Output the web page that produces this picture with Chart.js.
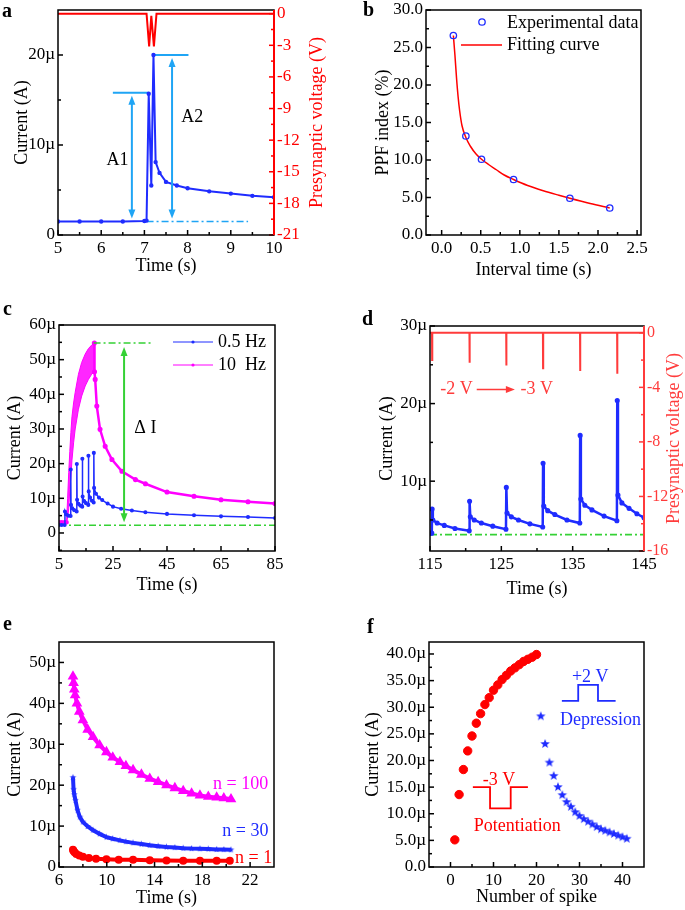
<!DOCTYPE html>
<html lang="en">
<head>
<meta charset="UTF-8">
<title>Synaptic current figure</title>
<script src="https://cdn.jsdelivr.net/npm/chart.js"></script>
<style>
  html, body { margin: 0; padding: 0; background: #fff; overflow: hidden; }
  #figure { position: relative; width: 685px; height: 910px; font-family: "Liberation Serif", "Times New Roman", serif; }
  #figure canvas { position: absolute; }
  .panel-label { position: absolute; z-index: 2; font-size: 20px; font-weight: bold; line-height: 20px; }
</style>
</head>
<body>
<div id="figure">
  <div class="panel-label" style="left:2px;top:0px">a</div>
  <div class="panel-label" style="left:363px;top:-1px">b</div>
  <div class="panel-label" style="left:3px;top:298px">c</div>
  <div class="panel-label" style="left:362px;top:308px">d</div>
  <div class="panel-label" style="left:3px;top:613px">e</div>
  <div class="panel-label" style="left:367px;top:616px">f</div>
</div>
<script>
// ---------- a: paired pulse ----------
const aTime    = [5, 5.5, 6, 6.5, 7.0, 7.05, 7.10, 7.16, 7.21, 7.26, 7.35, 7.5, 7.75, 8.0, 8.5, 9.0, 9.5, 10.0];
const aCurrent = [1.5, 1.5, 1.5, 1.5, 1.55, 1.6, 15.7, 5.5, 20.0, 8.1, 6.9, 5.9, 5.5, 5.2, 4.85, 4.6, 4.35, 4.2];
const aVoltTime = [5, 7.05, 7.11, 7.16, 7.22, 7.28, 10];
const aVolt     = [0, 0, -3.1, -0.2, -3.1, 0, 0];
const aA1LineX = [6.27, 7.10], aA1LineY = [15.8, 15.8];
const aA2LineX = [7.21, 8.02], aA2LineY = [20.0, 20.0];
const aBaseX = [7.05, 9.4], aBaseY = [1.5, 1.5];
const aArrows = [[6.71, 15.8, 1.5], [7.64, 20.0, 1.5]];
const aNotes = [['A1', 6.38, 8.3], ['A2', 8.11, 13.1]];
const aXTicks = [5, 6, 7, 8, 9, 10];
const aYTicks = [0, 10, 20];
const aY2Ticks = [0, -3, -6, -9, -12, -15, -18, -21];

// ---------- b: PPF index ----------
const bInterval = [0.15, 0.31, 0.51, 0.92, 1.64, 2.15];
const bPPF      = [26.6, 13.2, 10.1, 7.4, 4.9, 3.6];
const bFitX = [0.15, 0.17, 0.19, 0.21, 0.23, 0.26, 0.31, 0.37, 0.44, 0.51, 0.60, 0.70, 0.80, 0.92, 1.10, 1.30, 1.50, 1.64, 1.90, 2.15];
const bFitY = [26.6, 24.0, 21.0, 18.5, 16.6, 14.6, 13.0, 11.8, 10.8, 10.1, 9.4, 8.7, 8.0, 7.4, 6.6, 5.9, 5.3, 4.9, 4.2, 3.6];
const bXTicks = [0, 0.5, 1, 1.5, 2, 2.5];
const bYTicks = [0, 5, 10, 15, 20, 25, 30];

// ---------- c: 0.5 Hz vs 10 Hz ----------
const c05T = [5, 6, 7.1, 7.2, 7.6, 8.4, 9.3, 9.35, 9.45, 9.9, 10.6, 11.55, 11.6, 11.7, 12.2, 12.9, 13.6, 13.65, 13.75, 14.3, 15.0, 15.85, 15.9, 16.0, 16.5, 17.2, 17.85, 17.9, 18.0, 18.7, 19.8, 21, 23, 25, 28, 32, 37, 45, 55, 65, 75, 85];
const c05I = [2.3, 2.3, 2.3, 6.2, 5.4, 5.0, 4.9, 18.3, 8.1, 7.1, 6.6, 6.2, 19.9, 9.6, 8.4, 7.9, 7.6, 21.4, 10.5, 9.2, 8.6, 8.1, 22.3, 12.0, 10.2, 9.3, 8.8, 23.1, 13.0, 11.3, 10.2, 9.5, 8.5, 7.6, 7.0, 6.5, 6.0, 5.5, 5.1, 4.8, 4.6, 4.3];
const c10BaseT = [5, 6, 7, 7.8];
const c10BaseI = [3.1, 3.1, 3.1, 3.1];
const c10BandT  = [7.8, 8.2, 8.6, 9.0, 9.4, 9.8, 10.4, 11.0, 12.2, 13.4, 14.7, 15.9, 17.1, 18.1];
const c10Upper  = [3.1, 10.0, 17.5, 23.5, 29.0, 33.5, 37.5, 40.6, 45.8, 49.2, 51.6, 53.2, 54.2, 54.8];
const c10Lower  = [3.1, 4.5, 7.0, 12.5, 16.0, 21.0, 26.0, 30.0, 35.7, 39.5, 42.4, 44.3, 45.8, 46.5];
const c10DecayT = [18.1, 18.15, 18.4, 19.0, 20.2, 22.1, 24.6, 28.3, 33.3, 37, 45, 55, 65, 75, 85];
const c10DecayI = [54.8, 46.5, 44.3, 36.6, 29.9, 25.0, 21.2, 17.8, 15.4, 14.2, 11.8, 10.6, 9.6, 9.0, 8.5];
const cTopX = [17.8, 39.4], cTopY = [54.8, 54.8];
const cBaseX = [5, 85], cBaseY = [2.2, 2.2];
const cArrow = [29.1, 54.8, 2.2];
const cXTicks = [5, 25, 45, 65, 85];
const cYTicks = [0, 10, 20, 30, 40, 50, 60];

// ---------- d: pulse amplitude train ----------
const dT = [115, 115.25, 115.3, 115.4, 116.0, 117.0, 118.5, 120.5, 120.55, 120.65, 121.2, 122.2, 123.8, 125.65, 125.7, 125.8, 126.4, 127.4, 129.0, 130.8, 130.85, 130.95, 131.5, 132.5, 134.2, 136.0, 136.05, 136.15, 136.7, 137.7, 139.4, 141.2, 141.25, 141.35, 141.9, 142.9, 144.0, 145];
const dI = [3.3, 3.3, 6.4, 5.0, 4.6, 4.3, 3.9, 3.6, 7.4, 5.4, 5.0, 4.6, 4.2, 3.8, 9.2, 5.9, 5.4, 5.0, 4.5, 4.1, 12.3, 6.8, 6.2, 5.7, 5.0, 4.6, 15.9, 7.7, 6.9, 6.3, 5.5, 4.9, 20.4, 8.2, 7.2, 6.5, 5.8, 5.3];
const dVoltT = [115, 115.28, 115.30, 115.32, 120.53, 120.55, 120.57, 125.68, 125.70, 125.72, 130.83, 130.85, 130.87, 136.03, 136.05, 136.07, 141.23, 141.25, 141.27, 145];
const dVolt  = [0, 0, -2.0, 0, 0, -2.2, 0, 0, -2.4, 0, 0, -2.6, 0, 0, -2.8, 0, 0, -3.0, 0, 0];
const dBaseX = [115, 145], dBaseY = [3.1, 3.1];
const dXTicks = [115, 125, 135, 145];
const dYTicks = [10, 20, 30];
const dY2Ticks = [0, -4, -8, -12, -16];

// ---------- e: decay after n pulses ----------
const eT100 = [7.17, 7.22, 7.28, 7.35, 7.5, 7.7, 8.0, 8.4, 8.85, 9.4, 9.97, 10.5, 11.1, 11.6, 12.2, 12.9, 13.6, 14.3, 15.0, 15.7, 16.4, 17.1, 17.8, 18.5, 19.2, 19.8, 20.4];
const eI100 = [46.6, 45.0, 43.4, 42.0, 40.0, 38.0, 35.9, 33.6, 31.8, 29.8, 28.1, 26.8, 25.7, 24.7, 23.7, 22.6, 21.6, 20.8, 20.0, 19.3, 18.6, 18.0, 17.5, 17.2, 17.0, 16.8, 16.6];
const eT30 = [7.17, 7.22, 7.28, 7.38, 7.55, 7.75, 8.0, 8.4, 8.85, 9.4, 9.97, 10.5, 11.1, 11.6, 12.2, 12.9, 13.6, 14.3, 15.0, 15.7, 16.4, 17.1, 17.8, 18.5, 19.2, 19.8, 20.4];
const eI30 = [21.9, 19.0, 17.7, 16.3, 13.9, 12.2, 11.0, 9.9, 9.0, 8.1, 7.3, 6.9, 6.5, 6.2, 5.9, 5.6, 5.3, 5.1, 4.9, 4.75, 4.6, 4.5, 4.45, 4.4, 4.3, 4.25, 4.2];
const eT1 = [7.17, 7.22, 7.3, 7.45, 7.7, 8.0, 8.5, 9.1, 9.97, 11.0, 12.2, 13.6, 15.0, 16.4, 17.8, 19.2, 20.3];
const eI1 = [4.2, 3.9, 3.6, 3.2, 2.8, 2.5, 2.2, 2.0, 1.9, 1.8, 1.75, 1.65, 1.6, 1.55, 1.55, 1.5, 1.5];
const eNotes = [['n = 100', 21.2, 20.2, '#ff00ff'], ['n = 30', 21.6, 8.8, '#1f2cff'], ['n = 1', 22.3, 2.2, '#ff0000']];
const eXTicks = [6, 10, 14, 18, 22];
const eYTicks = [0, 10, 20, 30, 40, 50];

// ---------- f: potentiation / depression ----------
const fPotSpike = [1, 2, 3, 4, 5, 6, 7, 8, 9, 10, 11, 12, 13, 14, 15, 16, 17, 18, 19, 20];
const fPotI = [5.1, 13.6, 18.3, 21.8, 24.6, 27.0, 28.8, 30.5, 31.8, 33.2, 34.2, 35.2, 36.0, 36.8, 37.4, 38.0, 38.6, 39.0, 39.4, 39.9];
const fDepSpike = [21, 22, 23, 24, 25, 26, 27, 28, 29, 30, 31, 32, 33, 34, 35, 36, 37, 38, 39, 40, 41];
const fDepI = [28.3, 23.1, 19.6, 17.1, 15.0, 13.5, 12.2, 11.3, 10.3, 9.6, 9.0, 8.5, 8.0, 7.5, 7.1, 6.8, 6.5, 6.2, 5.9, 5.6, 5.3];
const fUpPulseX = [25.9, 29.7, 29.7, 34.3, 34.3, 38.4], fUpPulseY = [31.2, 31.2, 34.2, 34.2, 31.2, 31.2];
const fDownPulseX = [5.2, 9.2, 9.2, 14.0, 14.0, 18.0], fDownPulseY = [15.0, 15.0, 11.0, 11.0, 15.0, 15.0];
const fNotes = [['+2 V', 32.5, 35.6, '#1f2cff'], ['Depression', 34.9, 27.6, '#1f2cff'], ['-3 V', 11.3, 16.3, '#ff0000'], ['Potentiation', 15.5, 7.65, '#ff0000']];
const fXTicks = [0, 10, 20, 30, 40];
const fYTicks = [0, 5, 10, 15, 20, 25, 30, 35, 40];

const BLUE = '#1f2cff', RED = '#ff0000', SOFTRED = '#ff3b3b', MAGENTA = '#ff00ff', GREEN = '#35d135', CYAN = '#1fa5f5';
const FONT = '"Liberation Serif", "Times New Roman", serif';

Chart.defaults.font.family = FONT;
Chart.defaults.color = '#000';
Chart.defaults.animation = false;

const pts = (xs, ys) => xs.map((x, i) => ({ x: x, y: ys[i] }));
const microFmt = v => v === 0 ? '0' : v + 'µ';

function series(xs, ys, color, extra) {
    return Object.assign({
        data: pts(xs, ys), showLine: true, borderColor: color, backgroundColor: color,
        borderWidth: 2, pointRadius: 0, tension: 0
    }, extra || {});
}

function axis(position, min, max, ticks, fmt, title, pad, color, size) {
    color = color || '#000';
    return {
        type: 'linear', position: position, min: min, max: max,
        grid: { display: false, drawTicks: false },
        border: { display: false },
        afterBuildTicks: s => { s.ticks = ticks.map(v => ({ value: v })); },
        ticks: { font: { size: size || 17 }, color: color, padding: 3, autoSkip: false, maxRotation: 0, callback: fmt },
        title: { display: !!title, text: title, color: color, font: { size: 18 }, padding: pad }
    };
}

function starImage(color, r) {
    const c = document.createElement('canvas');
    c.width = c.height = Math.ceil(r * 2 + 2);
    const g = c.getContext('2d');
    g.fillStyle = color;
    g.beginPath();
    for (let i = 0; i < 10; i++) {
        const ang = -Math.PI / 2 + i * Math.PI / 5;
        const rr = i % 2 ? r * 0.42 : r;
        g.lineTo(c.width / 2 + rr * Math.cos(ang), c.height / 2 + rr * Math.sin(ang));
    }
    g.closePath();
    g.fill();
    return c;
}

function text(ctx, str, x, y, color, align) {
    ctx.save();
    ctx.font = '18px ' + FONT;
    ctx.fillStyle = color || '#000';
    ctx.textAlign = align || 'center';
    ctx.textBaseline = 'middle';
    ctx.fillText(str, x, y);
    ctx.restore();
}

// right-hand axis title, read bottom to top like the left one
function sideTitle(ctx, str, x, y, color) {
    ctx.save();
    ctx.translate(x, y);
    ctx.rotate(-Math.PI / 2);
    text(ctx, str, 0, 0, color);
    ctx.restore();
}

function head(ctx, x, y, dx, dy, color) {
    const L = 9, W = 3.5;
    ctx.fillStyle = color;
    ctx.beginPath();
    ctx.moveTo(x, y);
    ctx.lineTo(x - dx * L - dy * W, y - dy * L + dx * W);
    ctx.lineTo(x - dx * L + dy * W, y - dy * L - dx * W);
    ctx.closePath();
    ctx.fill();
}

function vArrow(ctx, x, yTop, yBot, color) {
    ctx.save();
    ctx.strokeStyle = color;
    ctx.lineWidth = 2;
    ctx.beginPath();
    ctx.moveTo(x, yTop + 6);
    ctx.lineTo(x, yBot - 6);
    ctx.stroke();
    head(ctx, x, yTop, 0, -1, color);
    head(ctx, x, yBot, 0, 1, color);
    ctx.restore();
}

// frame round the plot area with inward major and minor ticks
const framePlugin = {
    id: 'frame',
    afterDraw(chart, args, opts) {
        const { ctx, chartArea: a, scales } = chart;
        ctx.save();
        ctx.lineWidth = 1.5;
        (opts.axes || []).forEach(ax => {
            const s = scales[ax.id];
            const major = ax.major.slice().sort((p, q) => p - q);
            const step = major[1] - major[0];
            const minor = [];
            for (let i = 0; i < major.length - 1; i++) minor.push((major[i] + major[i + 1]) / 2);
            if (major[0] - step / 2 > s.min) minor.push(major[0] - step / 2);
            if (major[major.length - 1] + step / 2 < s.max) minor.push(major[major.length - 1] + step / 2);
            ctx.strokeStyle = ax.color || '#000';
            const mark = (v, len) => {
                const p = s.getPixelForValue(v);
                ctx.beginPath();
                if (ax.side === 'bottom') { ctx.moveTo(p, a.bottom); ctx.lineTo(p, a.bottom - len); }
                else if (ax.side === 'left') { ctx.moveTo(a.left, p); ctx.lineTo(a.left + len, p); }
                else { ctx.moveTo(a.right, p); ctx.lineTo(a.right - len, p); }
                ctx.stroke();
            };
            major.forEach(v => mark(v, 5));
            minor.forEach(v => mark(v, 3));
        });
        ctx.strokeStyle = '#000';
        ctx.strokeRect(a.left, a.top, a.right - a.left, a.bottom - a.top);
        if (opts.rightColor) {
            ctx.strokeStyle = opts.rightColor;
            ctx.lineWidth = 2;
            ctx.beginPath();
            ctx.moveTo(a.right, a.top);
            ctx.lineTo(a.right, a.bottom);
            ctx.stroke();
            sideTitle(ctx, opts.rightTitle, opts.rightTitleX, (a.top + a.bottom) / 2, opts.rightColor);
        }
        ctx.restore();
    }
};

function panel(box, area, scales, datasets, frame, draw) {
    const c = document.createElement('canvas');
    c.width = box.w;
    c.height = box.h;
    c.style.left = box.x + 'px';
    c.style.top = box.y + 'px';
    document.getElementById('figure').appendChild(c);
    Object.values(scales).forEach(s => {
        s.afterFit = sc => {
            if (s.position === 'left') sc.width = area.l - box.x;
            else if (s.position === 'right') sc.width = box.x + box.w - area.r;
            else sc.height = box.y + box.h - area.b;
            sc.paddingTop = sc.paddingBottom = sc.paddingLeft = sc.paddingRight = 0;
        };
    });
    const hasRight = Object.values(scales).some(s => s.position === 'right');
    return new Chart(c, {
        type: 'scatter',
        data: { datasets: datasets },
        options: {
            responsive: false,
            animation: false,
            layout: { padding: { top: area.t - box.y, right: hasRight ? 0 : box.x + box.w - area.r, left: 0, bottom: 0 } },
            scales: scales,
            plugins: { legend: { display: false }, tooltip: { enabled: false }, frame: frame }
        },
        plugins: [framePlugin, { id: 'notes', afterDatasetsDraw: draw || (() => {}) }]
    });
}

// ---- a ----
panel({ x: 0, y: 0, w: 340, h: 290 }, { l: 58, t: 10, r: 274, b: 235 }, {
    x: axis('bottom', 5, 10, aXTicks, v => String(v), 'Time (s)', 13),
    y: axis('left', 0, 25, aYTicks, microFmt, 'Current (A)', 11),
    y2: axis('right', -21, 0.35, aY2Ticks, v => String(v), '', 0, RED)
}, [
    series(aTime, aCurrent, BLUE, { pointRadius: 1.2, yAxisID: 'y' }),
    series(aVoltTime, aVolt, RED, { yAxisID: 'y2' }),
    series(aA1LineX, aA1LineY, CYAN, { yAxisID: 'y' }),
    series(aA2LineX, aA2LineY, CYAN, { yAxisID: 'y' }),
    series(aBaseX, aBaseY, CYAN, { yAxisID: 'y', borderWidth: 1.5, borderDash: [7, 3, 2, 3] })
], { axes: [{ id: 'x', side: 'bottom', major: aXTicks }, { id: 'y', side: 'left', major: aYTicks }, { id: 'y2', side: 'right', major: aY2Ticks, color: RED }],
     rightColor: RED, rightTitle: 'Presynaptic voltage (V)', rightTitleX: 317 },
chart => {
    const { ctx, scales: { x, y } } = chart;
    aArrows.forEach(([ax, top, base]) => vArrow(ctx, x.getPixelForValue(ax), y.getPixelForValue(top) + 3, y.getPixelForValue(base) - 3, CYAN));
    aNotes.forEach(([t, xv, yv]) => text(ctx, t, x.getPixelForValue(xv), y.getPixelForValue(yv)));
});

// ---- b ----
panel({ x: 340, y: 0, w: 345, h: 290 }, { l: 426, t: 10, r: 641, b: 235 }, {
    x: axis('bottom', -0.2, 2.55, bXTicks, v => v.toFixed(1), 'Interval time (s)', 9),
    y: axis('left', 0, 30, bYTicks, v => v.toFixed(1), 'PPF index (%)', 32)
}, [
    { data: pts(bInterval, bPPF), showLine: false, pointRadius: 3.2, pointBorderWidth: 1.3, pointBorderColor: BLUE, pointBackgroundColor: 'rgba(0,0,0,0)' },
    series(bFitX, bFitY, RED, { borderWidth: 1.5, cubicInterpolationMode: 'monotone' })
], { axes: [{ id: 'x', side: 'bottom', major: bXTicks }, { id: 'y', side: 'left', major: bYTicks }] },
chart => {
    const ctx = chart.ctx;
    ctx.save();
    ctx.strokeStyle = BLUE;
    ctx.lineWidth = 1.3;
    ctx.beginPath();
    ctx.arc(142, 22, 3.2, 0, Math.PI * 2);
    ctx.stroke();
    ctx.strokeStyle = RED;
    ctx.lineWidth = 1.5;
    ctx.beginPath();
    ctx.moveTo(121, 45);
    ctx.lineTo(162, 45);
    ctx.stroke();
    ctx.restore();
    text(ctx, 'Experimental data', 167, 23, '#000', 'left');
    text(ctx, 'Fitting curve', 167, 45, '#000', 'left');
});

// ---- c ----
panel({ x: 0, y: 300, w: 340, h: 300 }, { l: 59, t: 325, r: 275, b: 551 }, {
    x: axis('bottom', 5, 85, cXTicks, v => String(v), 'Time (s)', 4),
    y: axis('left', -5.2, 60, cYTicks, microFmt, 'Current (A)', 4)
}, [
    series(c05T, c05I, BLUE, { borderWidth: 1.5, pointRadius: 1.3 }),
    series(cTopX, cTopY, GREEN, { borderWidth: 1.5, borderDash: [7, 3, 2, 3] }),
    series(cBaseX, cBaseY, GREEN, { borderWidth: 1.5, borderDash: [7, 3, 2, 3] }),
    series(c10BaseT, c10BaseI, MAGENTA, { borderWidth: 2, pointRadius: 1.3 }),
    series(c10DecayT, c10DecayI, MAGENTA, { borderWidth: 2.5, pointRadius: 1.3 }),
    series(c10BandT, c10Upper, MAGENTA, { borderWidth: 1, fill: '+1', backgroundColor: 'rgba(255,0,255,0.85)' }),
    series(c10BandT, c10Lower, MAGENTA, { borderWidth: 1 })
], { axes: [{ id: 'x', side: 'bottom', major: cXTicks }, { id: 'y', side: 'left', major: cYTicks }] },
chart => {
    const { ctx, scales: { x, y } } = chart;
    vArrow(ctx, x.getPixelForValue(cArrow[0]), y.getPixelForValue(cArrow[1]) + 4, y.getPixelForValue(cArrow[2]) - 3, GREEN);
    text(ctx, 'Δ I', x.getPixelForValue(37), y.getPixelForValue(30.3));
    ctx.save();
    ctx.lineWidth = 1;
    [[BLUE, 42, '0.5 Hz'], [MAGENTA, 65, '10  Hz']].forEach(([col, yy, lab]) => {
        ctx.strokeStyle = col;
        ctx.fillStyle = col;
        ctx.beginPath();
        ctx.moveTo(173, yy);
        ctx.lineTo(213, yy);
        ctx.stroke();
        ctx.beginPath();
        ctx.arc(193, yy, 1.6, 0, Math.PI * 2);
        ctx.fill();
        text(ctx, lab, 218, yy, '#000', 'left');
    });
    ctx.restore();
});

// ---- d ----
panel({ x: 340, y: 300, w: 345, h: 300 }, { l: 430, t: 326, r: 644, b: 551 }, {
    x: axis('bottom', 115, 145, dXTicks, v => String(v), 'Time (s)', 0),
    y: axis('left', 1, 30, dYTicks, v => v + 'µ', 'Current (A)', 36),
    y2: axis('right', -16, 0.5, dY2Ticks, v => String(v), '', 0, SOFTRED, 16)
}, [
    series(dT, dI, BLUE, { borderWidth: 2.5, pointRadius: 1.3, yAxisID: 'y' }),
    series(dVoltT, dVolt, SOFTRED, { borderWidth: 2, yAxisID: 'y2' }),
    series(dBaseX, dBaseY, GREEN, { borderWidth: 1.8, borderDash: [7, 3, 2, 3], yAxisID: 'y' })
], { axes: [{ id: 'x', side: 'bottom', major: dXTicks }, { id: 'y', side: 'left', major: dYTicks }, { id: 'y2', side: 'right', major: dY2Ticks, color: SOFTRED }],
     rightColor: SOFTRED, rightTitle: 'Presynaptic voltage (V)', rightTitleX: 334 },
chart => {
    const { ctx, scales: { x, y } } = chart;
    const yy = y.getPixelForValue(21.8);
    text(ctx, '-2 V', x.getPixelForValue(118.7), yy, SOFTRED);
    text(ctx, '-3 V', x.getPixelForValue(129.95), yy, SOFTRED);
    ctx.save();
    ctx.strokeStyle = SOFTRED;
    ctx.lineWidth = 1.5;
    ctx.beginPath();
    ctx.moveTo(x.getPixelForValue(121.55), yy);
    ctx.lineTo(x.getPixelForValue(126.9) - 6, yy);
    ctx.stroke();
    head(ctx, x.getPixelForValue(126.9), yy, 1, 0, SOFTRED);
    ctx.restore();
});

// ---- e ----
const blueStarSmall = starImage(BLUE, 3.4);
panel({ x: 0, y: 610, w: 340, h: 300 }, { l: 59, t: 642, r: 274, b: 867 }, {
    x: axis('bottom', 6, 24, eXTicks, v => String(v), 'Time (s)', 1),
    y: axis('left', 0, 55, eYTicks, microFmt, 'Current (A)', 4)
}, [
    series(eT1, eI1, RED, { borderWidth: 4, pointRadius: 2, pointStyle: 'circle' }),
    series(eT30, eI30, BLUE, { borderWidth: 4, pointRadius: 3, pointStyle: blueStarSmall }),
    series(eT100, eI100, MAGENTA, { borderWidth: 4, pointRadius: 2.2, pointStyle: 'triangle' })
], { axes: [{ id: 'x', side: 'bottom', major: eXTicks }, { id: 'y', side: 'left', major: eYTicks }] },
chart => {
    const { ctx, scales: { x, y } } = chart;
    eNotes.forEach(([t, xv, yv, col]) => text(ctx, t, x.getPixelForValue(xv), y.getPixelForValue(yv), col));
});

// ---- f ----
const blueStar = starImage(BLUE, 5);
panel({ x: 340, y: 610, w: 345, h: 300 }, { l: 429, t: 642, r: 644, b: 867 }, {
    x: axis('bottom', -5, 45, fXTicks, v => String(v), 'Number of spike', 2),
    y: axis('left', 0, 42.25, fYTicks, v => v === 0 ? '0.0' : v.toFixed(1) + 'µ', 'Current (A)', 22)
}, [
    { data: pts(fPotSpike, fPotI), showLine: false, pointRadius: 4.2, pointBackgroundColor: RED, pointBorderColor: RED },
    { data: pts(fDepSpike, fDepI), showLine: false, pointRadius: 5, pointStyle: blueStar },
    series(fUpPulseX, fUpPulseY, BLUE, { borderWidth: 1.8 }),
    series(fDownPulseX, fDownPulseY, RED, { borderWidth: 1.8 })
], { axes: [{ id: 'x', side: 'bottom', major: fXTicks }, { id: 'y', side: 'left', major: fYTicks }] },
chart => {
    const { ctx, scales: { x, y } } = chart;
    fNotes.forEach(([t, xv, yv, col]) => text(ctx, t, x.getPixelForValue(xv), y.getPixelForValue(yv), col));
});
</script>
</body>
</html>
